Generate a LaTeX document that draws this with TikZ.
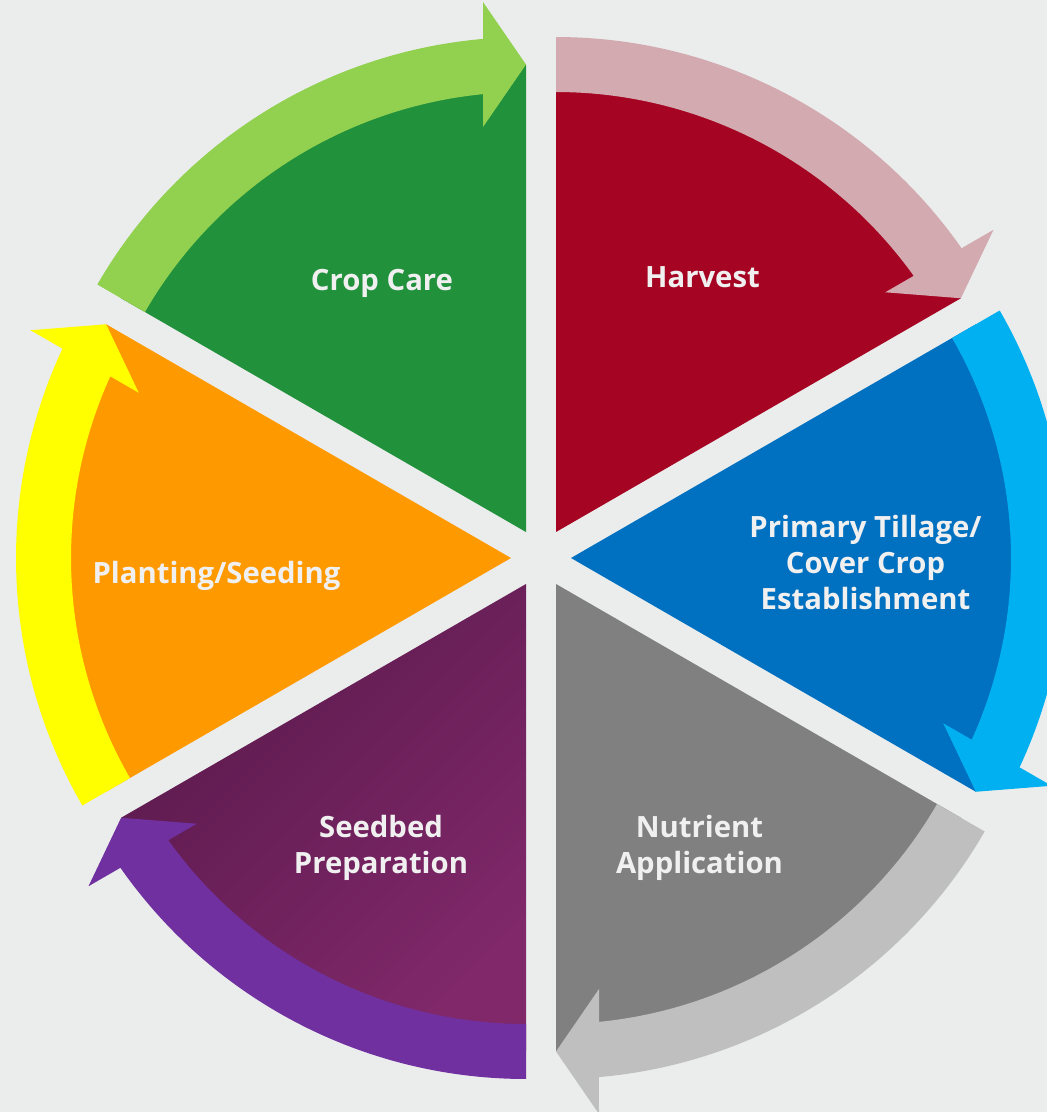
\documentclass[tikz,border=0pt]{standalone}
\usepackage{fontspec}
\setmainfont{Open Sans}
\usetikzlibrary{calc}
\definecolor{bgc}{RGB}{235,237,237}
\definecolor{labelc}{RGB}{240,240,240}
\definecolor{cropc}{RGB}{33,145,60}
\definecolor{cropa}{RGB}{146,208,80}
\definecolor{harvc}{RGB}{165,5,35}
\definecolor{harva}{RGB}{210,170,175}
\definecolor{tillc}{RGB}{0,112,192}
\definecolor{tilla}{RGB}{0,176,240}
\definecolor{nutc}{RGB}{128,128,128}
\definecolor{nuta}{RGB}{191,191,191}
\definecolor{seedd}{RGB}{90,26,76}
\definecolor{seedl}{RGB}{128,40,106}
\definecolor{seeda}{RGB}{112,48,160}
\definecolor{plantc}{RGB}{255,153,0}
\definecolor{planta}{RGB}{255,255,0}
\tikzset{
  lbl/.style={text=labelc, font=\bfseries\fontsize{29.3}{36}\selectfont, inner sep=0pt, anchor=base},
}
\newcommand{\cyclesector}[3]{% name, bisector, fill options
  \coordinate (A#1) at ($(C)+(#2:30)$);
  \path[#3] (A#1) -- ($(A#1)+({#2-30}:467.5)$) arc[start angle={#2-30}, end angle={#2+30}, radius=467.5] -- cycle;
}
\newcommand{\cyclearrow}[3]{% name, bisector, colour
  \fill[#3] ($(A#1)+({#2+30}:495)$) arc[start angle={#2+30}, end angle={#2-25.02}, radius=495]
    -- ($(A#1)+({#2-30}:530)+({#2+60}:43)$) -- ($(A#1)+({#2-30}:467.5)$) -- ($(A#1)+({#2-30}:405)+({#2+60}:43)$)
    -- ($(A#1)+({#2-24.39}:440)$) arc[start angle={#2-24.39}, end angle={#2+30}, radius=440] -- cycle;
}
\begin{document}
\begin{tikzpicture}[x=1pt,y=1pt]
\useasboundingbox (0,0) rectangle (1047,-1112);
\fill[bgc] (0,0) rectangle (1047,-1112);
\clip (0,0) rectangle (1047,-1112);
\coordinate (C) at (541,-558);
% sectors
\cyclesector{harv}{60}{fill=harvc}
\cyclesector{till}{0}{fill=tillc}
\cyclesector{nut}{-60}{fill=nutc}
\cyclesector{seed}{-120}{top color=seedd, bottom color=seedl, shading angle=45}
\cyclesector{plant}{180}{fill=plantc}
\cyclesector{crop}{120}{fill=cropc}
% arrows
\cyclearrow{harv}{60}{harva}
\cyclearrow{till}{0}{tilla}
\cyclearrow{nut}{-60}{nuta}
\cyclearrow{seed}{-120}{seeda}
\cyclearrow{plant}{180}{planta}
\cyclearrow{crop}{120}{cropa}
% labels
\node[lbl] (lcrop) at (382,-290.5) {Crop Care};
\node[lbl] (lharv) at (702.5,-287) {Harvest};
\node[lbl] (ltill) at (865.5,-537) {\begin{tabular}[t]{@{}c@{}}Primary Tillage/\\Cover Crop\\Establishment\end{tabular}};
\node[lbl] (lplant) at (216.5,-583) {Planting/Seeding};
\node[lbl] (lseed) at (381,-837) {\begin{tabular}[t]{@{}c@{}}Seedbed\\Preparation\end{tabular}};
\node[lbl] (lnut) at (699.5,-837) {\begin{tabular}[t]{@{}c@{}}Nutrient\\Application\end{tabular}};
\end{tikzpicture}
\end{document}
